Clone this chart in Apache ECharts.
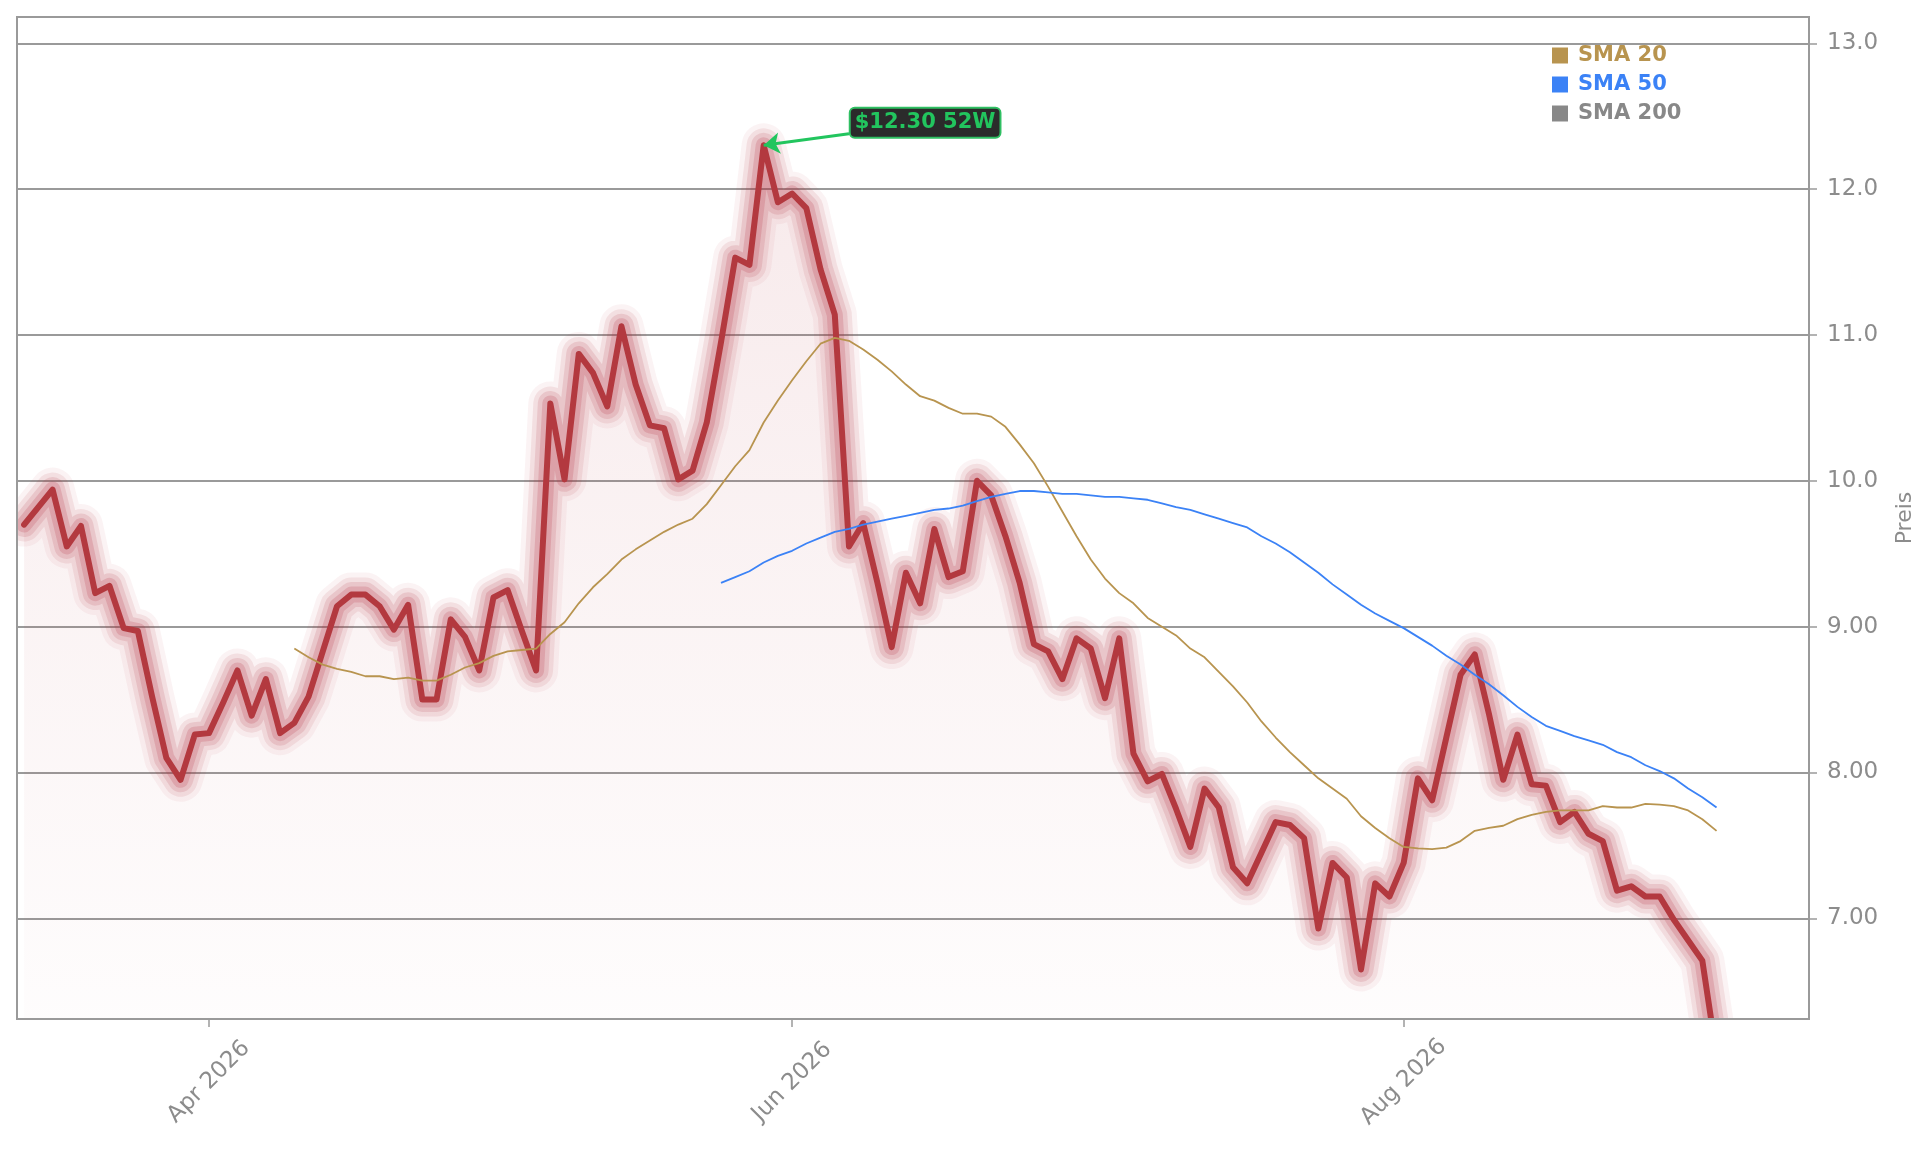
<!DOCTYPE html>
<html lang="de">
<head>
<meta charset="UTF-8">
<title>Preis</title>
<script src="https://cdn.jsdelivr.net/npm/echarts@6/dist/echarts.min.js"></script>
<style>
    html, body { margin: 0; padding: 0; background: #ffffff; }
    #chart { width: 1929px; height: 1151px; }
</style>
</head>
<body>
<div id="chart"></div>
<script>
// trading days (Mon-Fri without exchange holidays), starting 13 Mar 2026
var startDay = '2026-03-13';
var holidays = ['2026-04-03', '2026-05-25', '2026-06-19', '2026-07-03'];
var extraDays = 6; // empty room right of the last close
var monthTicks = ['2026-04-01', '2026-06-01', '2026-08-03'];

// daily close
var price = [
    9.70, 9.82, 9.94, 9.55, 9.69, 9.23, 9.28, 8.99, 8.97, 8.52,
    8.10, 7.95, 8.26, 8.27, 8.48, 8.70, 8.39, 8.64, 8.27, 8.34,
    8.52, 8.83, 9.14, 9.22, 9.22, 9.14, 8.98, 9.15, 8.50, 8.50,
    9.05, 8.93, 8.70, 9.20, 9.25, 8.97, 8.70, 10.53, 10.01, 10.87,
    10.74, 10.51, 11.06, 10.66, 10.38, 10.36, 10.01, 10.07, 10.40, 10.95,
    11.53, 11.48, 12.30, 11.91, 11.97, 11.87, 11.45, 11.14, 9.55, 9.71,
    9.30, 8.86, 9.37, 9.16, 9.67, 9.34, 9.38, 10.00, 9.90, 9.62,
    9.30, 8.88, 8.83, 8.64, 8.92, 8.85, 8.51, 8.92, 8.13, 7.94,
    7.99, 7.75, 7.49, 7.89, 7.76, 7.35, 7.24, 7.45, 7.66, 7.64,
    7.55, 6.93, 7.38, 7.28, 6.65, 7.24, 7.15, 7.38, 7.96, 7.81,
    8.24, 8.67, 8.81, 8.40, 7.95, 8.26, 7.92, 7.91, 7.66, 7.73,
    7.58, 7.53, 7.19, 7.22, 7.15, 7.15, 6.99, 6.85, 6.71, 6.06
];

// SMA 20, first value on day index 19
var sma20Start = 19;
var sma20 = [
    8.85, 8.79, 8.74, 8.71, 8.69, 8.66, 8.66, 8.64, 8.65, 8.63,
    8.63, 8.67, 8.72, 8.75, 8.80, 8.83, 8.84, 8.85, 8.95, 9.03,
    9.16, 9.27, 9.36, 9.46, 9.53, 9.59, 9.65, 9.70, 9.74, 9.84,
    9.97, 10.10, 10.21, 10.40, 10.55, 10.69, 10.82, 10.94, 10.98, 10.96,
    10.90, 10.83, 10.75, 10.66, 10.58, 10.55, 10.50, 10.46, 10.46, 10.44,
    10.37, 10.25, 10.12, 9.96, 9.79, 9.62, 9.46, 9.33, 9.23, 9.16,
    9.06, 9.00, 8.94, 8.85, 8.79, 8.69, 8.59, 8.48, 8.35, 8.24,
    8.14, 8.05, 7.96, 7.89, 7.82, 7.70, 7.62, 7.55, 7.49, 7.48,
    7.475, 7.485, 7.53, 7.60, 7.62, 7.635, 7.68, 7.71, 7.73, 7.74,
    7.74, 7.74, 7.77, 7.76, 7.76, 7.785, 7.78, 7.77, 7.74, 7.68,
    7.60
];

// SMA 50, first value on day index 49
var sma50Start = 49;
var sma50 = [
    9.30, 9.34, 9.38, 9.44, 9.485, 9.52, 9.57, 9.61, 9.65, 9.67,
    9.70, 9.72, 9.74, 9.76, 9.78, 9.80, 9.81, 9.83, 9.86, 9.89,
    9.91, 9.93, 9.93, 9.92, 9.91, 9.91, 9.90, 9.89, 9.89, 9.88,
    9.87, 9.845, 9.82, 9.80, 9.77, 9.74, 9.71, 9.68, 9.62, 9.57,
    9.51, 9.44, 9.37, 9.29, 9.22, 9.15, 9.09, 9.04, 8.99, 8.93,
    8.87, 8.80, 8.74, 8.67, 8.605, 8.53, 8.45, 8.38, 8.32, 8.285,
    8.25, 8.22, 8.19, 8.14, 8.105, 8.05, 8.01, 7.96, 7.89, 7.83,
    7.76
];

var high52 = 12.30;
var yTicks = [7, 8, 9, 10, 11, 12, 13];

var monthNames = ['Jan', 'Feb', 'Mar', 'Apr', 'May', 'Jun', 'Jul', 'Aug', 'Sep', 'Oct', 'Nov', 'Dec'];

function tradingDays(start, count) {
    var out = [];
    var d = new Date(start + 'T00:00:00Z');
    while (out.length < count) {
        var s = d.toISOString().slice(0, 10);
        var wd = d.getUTCDay();
        if (wd !== 0 && wd !== 6 && holidays.indexOf(s) < 0) out.push(s);
        d.setUTCDate(d.getUTCDate() + 1);
    }
    return out;
}

function offset(values, start) {
    var arr = [];
    for (var i = 0; i < start; i++) arr.push(null);
    return arr.concat(values);
}

var days = tradingDays(startDay, price.length + extraDays);
var peakIdx = price.indexOf(high52);

var chart = echarts.init(document.getElementById('chart'));
var font = 'DejaVu Sans';
var grey = '#8c8c8c';
var lineGrey = '#9a9a9a';
var red = '#b3393f';

// banded glow: wide faint strokes under the price line
var glowLayers = [[44, 0.06], [34, 0.10], [25, 0.14], [16, 0.19]];
var glowSeries = glowLayers.map(function (g) {
    return {
        type: 'line',
        data: price,
        symbol: 'none',
        silent: true,
        z: 3,
        lineStyle: { color: 'rgba(180,50,62,' + g[1] + ')', width: g[0], join: 'round', cap: 'round' }
    };
});

var option = {
    animation: false,
    backgroundColor: '#ffffff',
    textStyle: { fontFamily: font },
    grid: {
        left: 17, top: 17, width: 1792, height: 1002, z: 10,
        show: true, borderColor: lineGrey, borderWidth: 2, backgroundColor: 'transparent'
    },
    // the thick glow strokes are not clipped tightly by the grid: mask what spills out
    graphic: [
        { type: 'rect', z: 9, silent: true, shape: { x: 0, y: 0, width: 16, height: 1151 }, style: { fill: '#ffffff' } },
        { type: 'rect', z: 9, silent: true, shape: { x: 1500, y: 1020, width: 320, height: 30 }, style: { fill: '#ffffff' } }
    ],
    legend: {
        orient: 'vertical',
        left: 1547, top: 40,
        icon: 'rect',
        itemWidth: 16, itemHeight: 16, itemGap: 8,
        selectedMode: false,
        textStyle: { fontFamily: font, fontSize: 21, fontWeight: 'bold', padding: [0, 0, 0, 5] },
        data: [
            { name: 'SMA 20', textStyle: { color: '#b8944f' } },
            { name: 'SMA 50', textStyle: { color: '#3b82f6' } },
            { name: 'SMA 200', textStyle: { color: '#888888' } }
        ]
    },
    xAxis: {
        type: 'category',
        data: days,
        boundaryGap: true,
        axisLine: { show: true, lineStyle: { color: lineGrey, width: 2 } },
        axisTick: {
            show: true, alignWithLabel: true, length: 8,
            lineStyle: { color: lineGrey, width: 1.5 },
            interval: function (i, v) { return monthTicks.indexOf(v) >= 0; }
        },
        axisLabel: {
            interval: function (i, v) { return monthTicks.indexOf(v) >= 0; },
            rotate: 45,
            align: 'center',
            verticalAlign: 'middle',
            margin: 63,
            color: grey,
            fontSize: 23,
            fontFamily: font,
            formatter: function (v) {
                return monthNames[parseInt(v.slice(5, 7), 10) - 1] + ' ' + v.slice(0, 4);
            }
        },
        splitLine: { show: false }
    },
    yAxis: {
        type: 'value',
        position: 'right',
        min: 6.31, max: 13.18,
        name: 'Preis',
        nameLocation: 'middle',
        nameRotate: 90,
        nameGap: 85,
        nameTextStyle: { color: grey, fontSize: 22, fontFamily: font },
        axisLine: { show: true, lineStyle: { color: lineGrey, width: 2 } },
        axisTick: { show: true, length: 8, customValues: yTicks, lineStyle: { color: lineGrey, width: 1.5 } },
        axisLabel: {
            customValues: yTicks,
            margin: 18,
            color: grey,
            fontSize: 23,
            fontFamily: font,
            formatter: function (v) { return v >= 10 ? v.toFixed(1) : v.toFixed(2); }
        },
        splitLine: { show: true, lineStyle: { color: lineGrey, width: 2 } }
    },
    series: glowSeries.concat([
        {
            name: 'Preis',
            type: 'line',
            data: price,
            symbol: 'none',
            z: 4,
            lineStyle: { color: red, width: 6, join: 'round', cap: 'round' },
            areaStyle: {
                origin: 'start',
                color: new echarts.graphic.LinearGradient(0, 0, 0, 1, [
                    { offset: 0, color: 'rgba(180,50,62,0.15)' },
                    { offset: 1, color: 'rgba(180,50,62,0.01)' }
                ])
            },
            markLine: {
                silent: true,
                z: 8,
                symbol: ['none', 'arrow'],
                symbolSize: 16,
                label: { show: false },
                lineStyle: { color: '#22c55e', width: 3, type: 'solid' },
                data: [[
                    { coord: [peakIdx + 6, 12.38] },
                    { coord: [peakIdx, high52] }
                ]]
            },
            markPoint: {
                silent: true,
                z: 8,
                symbol: 'rect',
                symbolSize: 0,
                data: [{ coord: [peakIdx + 11, 12.455] }],
                label: {
                    show: true,
                    position: 'inside',
                    offset: [5, 0],
                    formatter: '$' + high52.toFixed(2) + ' 52W',
                    color: '#22c55e',
                    fontFamily: font,
                    fontWeight: 'bold',
                    fontSize: 21,
                    backgroundColor: '#2b2b2b',
                    borderColor: '#2fbf62',
                    borderWidth: 2,
                    borderRadius: 4,
                    padding: [4, 4, 3, 4]
                }
            }
        },
        {
            name: 'SMA 20',
            type: 'line',
            data: offset(sma20, sma20Start),
            symbol: 'none',
            z: 5,
            itemStyle: { color: '#b8944f' },
            lineStyle: { color: '#b8944f', width: 1.8 }
        },
        {
            name: 'SMA 50',
            type: 'line',
            data: offset(sma50, sma50Start),
            symbol: 'none',
            z: 5,
            itemStyle: { color: '#3b82f6' },
            lineStyle: { color: '#3b82f6', width: 1.8 }
        },
        {
            name: 'SMA 200',
            type: 'line',
            data: [],
            symbol: 'none',
            itemStyle: { color: '#888888' },
            lineStyle: { color: '#888888', width: 1.8 }
        }
    ])
};

chart.setOption(option);
</script>
</body>
</html>
